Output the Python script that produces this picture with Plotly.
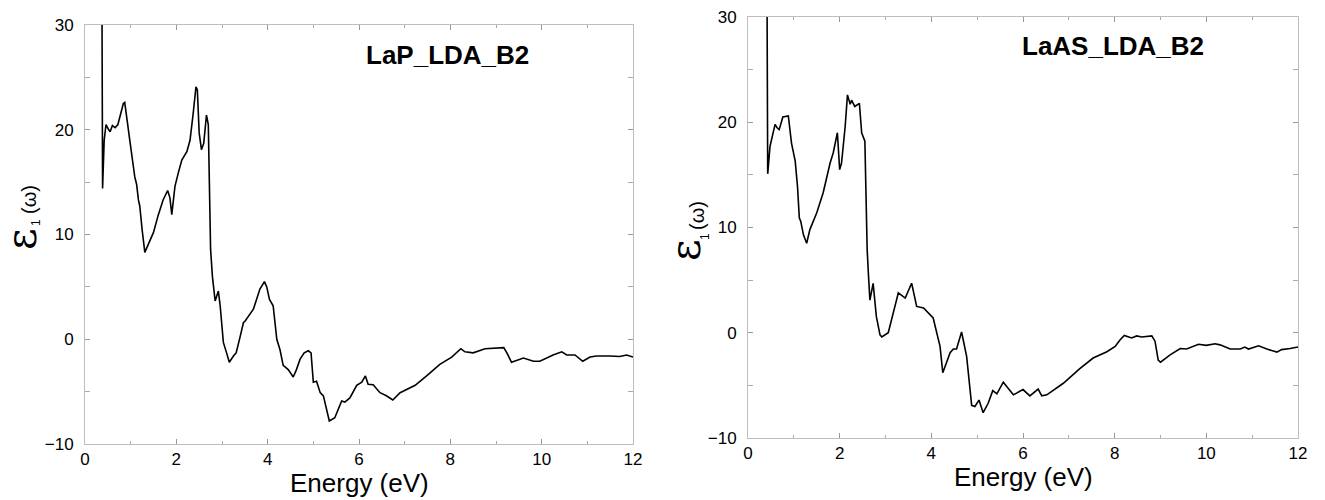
import plotly.graph_objects as go

W, H = 1325, 500

# ---- data: LaP (left) ----
lap_energy = [0.35, 0.385, 0.42, 0.46, 0.52, 0.55, 0.60, 0.66, 0.72, 0.78, 0.84, 0.87, 0.93, 0.99,
              1.09, 1.13, 1.17, 1.20, 1.25, 1.31, 1.40, 1.50, 1.60, 1.71, 1.81, 1.86, 1.90, 1.97,
              2.05, 2.12, 2.23, 2.30, 2.37, 2.43, 2.46, 2.50, 2.55, 2.60, 2.66, 2.70, 2.75, 2.79,
              2.85, 2.88, 2.92, 2.96, 3.03, 3.10, 3.16, 3.25, 3.31, 3.40, 3.47, 3.50, 3.58, 3.69,
              3.83, 3.93, 3.98, 4.04, 4.12, 4.20, 4.27, 4.34, 4.45, 4.56, 4.63, 4.71, 4.80, 4.89,
              4.95, 5.00, 5.07, 5.15, 5.22, 5.28, 5.35, 5.47, 5.62, 5.69, 5.80, 5.95, 6.06, 6.14,
              6.20, 6.31, 6.46, 6.60, 6.74, 6.90, 7.04, 7.23, 7.48, 7.77, 8.03, 8.14, 8.23, 8.32,
              8.50, 8.76, 9.01, 9.17, 9.25, 9.34, 9.60, 9.82, 9.96, 10.25, 10.44, 10.55, 10.73,
              10.90, 11.06, 11.20, 11.50, 11.71, 11.86, 12.00]
lap_eps = [60, 14.4, 19.0, 20.5, 20.0, 19.8, 20.4, 20.2, 20.5, 21.5, 22.5, 22.6, 20.5, 18.7,
           15.5, 14.8, 13.3, 12.7, 10.5, 8.3, 9.2, 10.2, 11.8, 13.3, 14.2, 13.5, 11.9, 14.6,
           16.0, 17.1, 17.9, 19.0, 21.6, 24.1, 23.8, 19.7, 18.1, 18.7, 21.4, 20.5, 8.6, 6.0,
           3.65, 4.1, 4.6, 3.2, -0.3, -1.3, -2.2, -1.6, -1.3, 0.3, 1.6, 1.7, 2.2, 2.9,
           4.8, 5.5, 5.0, 3.8, 3.2, 0.0, -1.0, -2.5, -2.9, -3.6, -2.9, -1.9, -1.3, -1.1,
           -1.3, -4.1, -4.0, -5.1, -5.4, -6.5, -7.8, -7.5, -5.9, -6.0, -5.6, -4.4, -4.1, -3.5,
           -4.3, -4.35, -5.1, -5.4, -5.8, -5.1, -4.8, -4.4, -3.5, -2.4, -1.7, -1.3, -0.9, -1.2,
           -1.3, -0.9, -0.86, -0.8, -1.4, -2.2, -1.8, -2.1, -2.1, -1.5, -1.2, -1.5, -1.5,
           -2.1, -1.7, -1.6, -1.6, -1.65, -1.5, -1.7]

# ---- data: LaAs (right) ----
laas_energy = [0.39, 0.43, 0.48, 0.59, 0.63, 0.68, 0.76, 0.88, 0.95, 1.03, 1.08, 1.12, 1.15, 1.21,
               1.28, 1.35, 1.50, 1.64, 1.79, 1.86, 1.95, 2.00, 2.04, 2.12, 2.17, 2.23, 2.26, 2.33,
               2.43, 2.48, 2.55, 2.60, 2.63, 2.66, 2.73, 2.80, 2.88, 2.92, 3.06, 3.28, 3.43, 3.57,
               3.68, 3.83, 4.04, 4.19, 4.25, 4.33, 4.41, 4.48, 4.55, 4.66, 4.77, 4.88, 4.95, 5.04,
               5.13, 5.24, 5.34, 5.43, 5.57, 5.68, 5.79, 6.00, 6.15, 6.33, 6.41, 6.52, 6.88, 7.24,
               7.53, 7.83, 8.01, 8.12, 8.21, 8.37, 8.48, 8.59, 8.81, 8.88, 8.95, 9.00, 9.21, 9.43,
               9.57, 9.83, 10.00, 10.19, 10.30, 10.52, 10.74, 10.84, 10.92, 11.14, 11.32, 11.54,
               11.64, 11.83, 12.00]
laas_eps = [60, 15.1, 17.7, 19.8, 19.5, 19.3, 20.5, 20.6, 18.0, 16.3, 13.9, 10.9, 10.6, 9.3,
            8.5, 9.8, 11.4, 13.3, 16.1, 17.1, 19.0, 15.5, 16.1, 19.6, 22.6, 21.7, 22.1, 21.5,
            21.8, 19.0, 18.2, 7.9, 5.35, 3.1, 4.7, 1.55, -0.2, -0.4, 0.0, 3.8, 3.3, 4.7,
            2.5, 2.35, 1.4, -1.3, -3.8, -2.9, -1.9, -1.55, -1.55, 0.07, -2.25, -6.9, -7.0, -6.4,
            -7.6, -6.7, -5.5, -5.8, -4.7, -5.3, -5.9, -5.4, -6.0, -5.35, -6.0, -5.9, -4.8, -3.4,
            -2.4, -1.8, -1.3, -0.67, -0.25, -0.5, -0.3, -0.4, -0.3, -0.8, -2.6, -2.8, -2.1, -1.5,
            -1.55, -1.1, -1.2, -1.05, -1.15, -1.55, -1.55, -1.36, -1.55, -1.24, -1.55, -1.84,
            -1.6, -1.5, -1.36]

x_ticks = [0, 2, 4, 6, 8, 10, 12]
y_ticks = [-10, 0, 10, 20, 30]
titles = ["LaP_LDA_B2", "LaAS_LDA_B2"]
x_label = "Energy (eV)"


def px(x):
    return x / W


def py(y):
    return 1 - y / H


fig = go.Figure()
fig.add_trace(go.Scatter(x=lap_energy, y=lap_eps, mode="lines",
                         line=dict(color="black", width=1.6), xaxis="x", yaxis="y",
                         showlegend=False))
fig.add_trace(go.Scatter(x=laas_energy, y=laas_eps, mode="lines",
                         line=dict(color="black", width=1.6), xaxis="x2", yaxis="y2",
                         showlegend=False))

tickfont = dict(family="Liberation Sans, Arial", size=17, color="black")


def xax(domain, anchor):
    return dict(domain=domain, anchor=anchor, range=[0, 12], tickvals=x_ticks,
                showgrid=False, zeroline=False, showline=True, linecolor="#bdbdbd",
                linewidth=1, mirror="ticks", ticks="inside", ticklen=5, tickcolor="#999999",
                minor=dict(ticks="inside", dtick=1, ticklen=3, tickcolor="#aaaaaa"),
                tickfont=tickfont, ticklabelstandoff=0, automargin=False)


def yax(domain, anchor):
    return dict(domain=domain, anchor=anchor, range=[-10, 30], tickvals=y_ticks,
                showgrid=False, zeroline=False, showline=True, linecolor="#bdbdbd",
                linewidth=1, mirror="ticks", ticks="inside", ticklen=5, tickcolor="#999999",
                minor=dict(ticks="inside", dtick=5, ticklen=5, tickcolor="#aaaaaa"),
                tickfont=tickfont, ticklabelstandoff=7, automargin=False)


fig.update_layout(
    width=W, height=H, margin=dict(l=0, r=0, t=0, b=0, autoexpand=False),
    plot_bgcolor="white", paper_bgcolor="white",
    xaxis=xax([px(85), px(633)], "y"),
    yaxis=yax([py(444), py(25)], "x"),
    xaxis2=xax([px(748), px(1298)], "y2"),
    yaxis2=yax([py(438), py(17)], "x2"),
)


def note(text, x, y, size, family="Liberation Sans, Arial", angle=0):
    return dict(text=text, x=px(x), y=py(y), xref="paper", yref="paper",
                xanchor="center", yanchor="middle", textangle=angle, showarrow=False,
                font=dict(family=family, size=size, color="black"))


ann = []
# panel titles
ann.append(note("<b>%s</b>" % titles[0], 447, 55, 26))
ann.append(note("<b>%s</b>" % titles[1], 1113, 46, 26))
# x labels
for cx, cy in [(359, 483), (1023, 477)]:
    ann.append(note(x_label, cx, cy, 26))
# y labels (epsilon_1(omega)), rotated
for (ex, ey), (sx, sy), (ox, oy) in [((21, 239), (36, 223), (29, 200)),
                                     ((685, 250), (705, 237), (697, 215))]:
    ann.append(note("ε", ex, ey, 42, family="DejaVu Serif", angle=-90))
    ann.append(note("1", sx, sy, 12, angle=-90))
    ann.append(note("(ω)", ox, oy, 20, angle=-90))
fig.update_layout(annotations=ann)

fig.write_html("out.html")
